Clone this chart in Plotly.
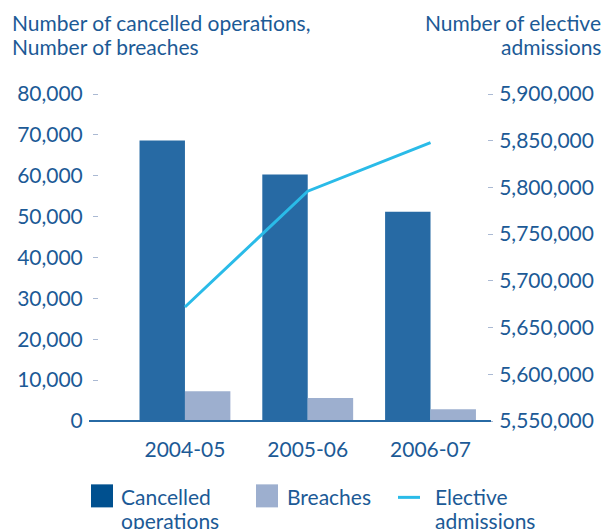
import plotly.graph_objects as go

# Data
years = ["2004-05", "2005-06", "2006-07"]
cancelled_ops = [68600, 60300, 51200]
breaches = [7300, 5600, 2900]
elective_admissions = [5672000, 5796000, 5848000]

left_ticks = list(range(0, 80001, 10000))
right_ticks = list(range(5550000, 5900001, 50000))

# Styling
W, H = 606, 529
PLOT_L, PLOT_R, PLOT_T, PLOT_B = 99, 487, 94, 420.7
TEXT = "#1C5A96"
FONT = "Lato"
C_CANCEL = "#276AA4"
C_CANCEL_KEY = "#00508F"
C_BREACH = "#9DAFCF"
C_LINE = "#2ABBE8"
TICK_C = "#AAB9D3"


def px(x):
    return (x - PLOT_L) / (PLOT_R - PLOT_L)


def py(y):
    return (PLOT_B - y) / (PLOT_B - PLOT_T)


fig = go.Figure()
fig.add_trace(go.Bar(x=years, y=cancelled_ops, name="Cancelled operations",
                     marker=dict(color=C_CANCEL, line=dict(width=0)),
                     showlegend=False))
fig.add_trace(go.Bar(x=years, y=breaches, name="Breaches",
                     marker=dict(color=C_BREACH, line=dict(width=0)),
                     showlegend=False))
fig.add_trace(go.Scatter(x=years, y=elective_admissions, yaxis="y2",
                         mode="lines", name="Elective admissions",
                         line=dict(color=C_LINE, width=3),
                         showlegend=False))

tick_font = dict(family=FONT, size=21, color=TEXT)

fig.update_layout(
    width=W, height=H,
    margin=dict(l=PLOT_L, r=W - PLOT_R, t=PLOT_T, b=H - PLOT_B),
    paper_bgcolor="white", plot_bgcolor="white",
    barmode="group", bargap=0.26, bargroupgap=0,
    xaxis=dict(type="category", range=[-0.70, 2.46], showgrid=False,
               zeroline=False, showline=False, ticks="",
               tickfont=tick_font, ticklabelstandoff=14),
    yaxis=dict(range=[0, 80000], tickvals=left_ticks,
               ticktext=[f"{v:,}" for v in left_ticks],
               showgrid=False, zeroline=False, showline=False,
               ticks="outside", ticklen=5, tickwidth=1, tickcolor=TICK_C,
               tickfont=tick_font, ticklabelstandoff=6),
    yaxis2=dict(range=[5550000, 5900000], tickvals=right_ticks,
                ticktext=[f"{v:,}" for v in right_ticks],
                overlaying="y", side="right",
                showgrid=False, zeroline=False, showline=False,
                ticks="outside", ticklen=5, tickwidth=1, tickcolor=TICK_C,
                tickfont=tick_font, ticklabelstandoff=2),
    font=dict(family=FONT, color=TEXT),
)

# Baseline under the bars
fig.add_shape(type="line", xref="paper", yref="paper",
              x0=px(89), x1=px(491), y0=0, y1=0,
              line=dict(color=C_CANCEL, width=2))


def text_line(x, y, s, anchor="left", size=21):
    fig.add_annotation(xref="paper", yref="paper", x=px(x), y=py(y),
                       xanchor=anchor, yanchor="middle", text=s,
                       showarrow=False,
                       font=dict(family=FONT, size=size, color=TEXT))


# Axis titles
text_line(10, 23, "Number of cancelled operations,")
text_line(10, 47, "Number of breaches")
text_line(603, 23, "Number of elective", anchor="right")
text_line(603, 47, "admissions", anchor="right")

# Legend
fig.add_shape(type="rect", xref="paper", yref="paper",
              x0=px(91), x1=px(113), y0=py(507), y1=py(484),
              fillcolor=C_CANCEL_KEY, line=dict(width=0))
text_line(119, 496, "Cancelled")
text_line(119, 520, "operations")
fig.add_shape(type="rect", xref="paper", yref="paper",
              x0=px(256), x1=px(278), y0=py(507), y1=py(484),
              fillcolor=C_BREACH, line=dict(width=0))
text_line(285, 496, "Breaches")
fig.add_shape(type="line", xref="paper", yref="paper",
              x0=px(398), x1=px(420), y0=py(497), y1=py(497),
              line=dict(color=C_LINE, width=3))
text_line(433, 496, "Elective")
text_line(433, 520, "admissions")

fig.write_html("out.html")
